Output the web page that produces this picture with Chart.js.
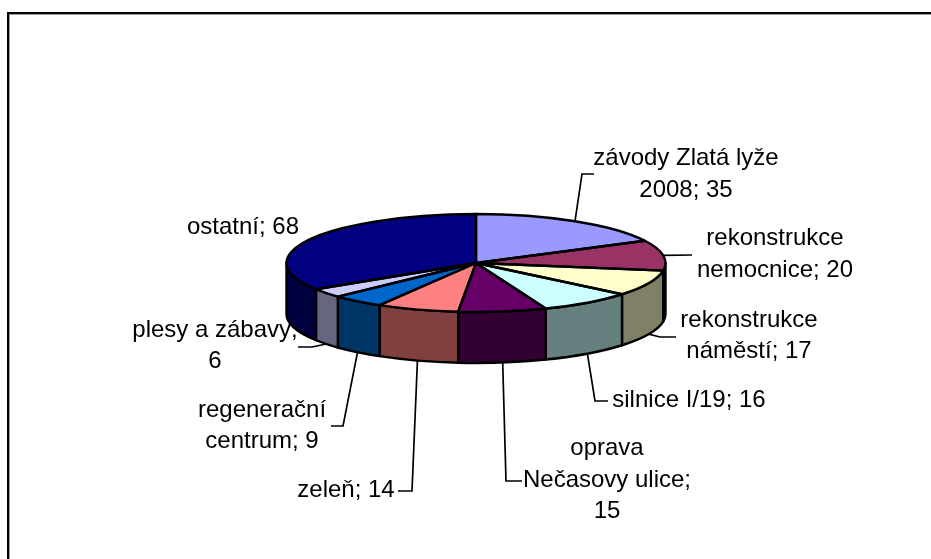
<!DOCTYPE html>
<html>
<head>
<meta charset="utf-8">
<style>
html,body{margin:0;padding:0;background:#fff;overflow:hidden}
canvas{display:block}
</style>
<script src="https://cdn.jsdelivr.net/npm/chart.js@4/dist/chart.umd.min.js"></script>
</head>
<body>
<canvas id="c" width="931" height="559"></canvas>
<script>
const categories = ["závody Zlatá lyže 2008","rekonstrukce nemocnice","rekonstrukce náměstí","silnice I/19","oprava Nečasovy ulice","zeleň","regenerační centrum","plesy a zábavy","ostatní"];
const values = [35,20,17,16,15,14,9,6,68];
const topColors = ["#9999FF","#993366","#FFFFCC","#CCFFFF","#660066","#FF8080","#0066CC","#CCCCFF","#000080"];
const wallColors = ["#4D4D80","#4D1A33","#808066","#668080","#330033","#804040","#003366","#666680","#000040"];
const labelLines = [["závody Zlatá lyže","2008; 35"],["rekonstrukce","nemocnice; 20"],["rekonstrukce","náměstí; 17"],["silnice I/19; 16"],["oprava","Nečasovy ulice;","15"],["zeleň; 14"],["regenerační","centrum; 9"],["plesy a zábavy;","6"],["ostatní; 68"]];
const labelCenterX = [686,775,749,689,607,346,262,215,243];
const labelBaseY = [[165,197],[245,277],[327,358],[407],[455,487,518],[497],[417,448],[337,368],[234]];
const leaderBends = [[[582,174],[594,174]],[[692,255]],[[660,337],[676,337]],[[595,401],[608,401]],[[506,481],[522,481]],[[412,491],[398,491]],[[343,426],[331,426]],[[312,347],[298,347]],[]];

const SQUASH = 49/189.5, DEPTH = 51;
const pie3d = {
  id:'pie3d',
  beforeDraw(chart){
    const c = chart.ctx;
    c.save();
    c.fillStyle='#fff'; c.fillRect(0,0,chart.width,chart.height);
    c.fillStyle='#9a9a9a';
    c.fillRect(9,14,chart.width-9,1); c.fillRect(9,14,1,chart.height-14);
    c.fillStyle='#000';
    c.fillRect(7,12,chart.width-7,2); c.fillRect(7,12,2,chart.height-12);
    c.restore();
  },
  beforeDatasetsDraw(chart){
    const c = chart.ctx, arcs = chart.getDatasetMeta(0).data;
    c.save();
    // labels sit beneath the pie
    c.fillStyle='#000'; c.font='24px "Liberation Sans", Arial, sans-serif';
    c.textAlign='center'; c.textBaseline='alphabetic';
    labelLines.forEach((ls,i)=>ls.forEach((t,j)=>c.fillText(t,labelCenterX[i],labelBaseY[i][j])));
    // side wall
    c.lineWidth=2.4; c.strokeStyle='#000'; c.lineJoin='round';
    arcs.forEach((a,i)=>{
      const s=Math.max(a.startAngle,0), e=Math.min(a.endAngle,Math.PI);
      if(e<=s) return;
      const r=a.outerRadius, ry=r*SQUASH;
      c.beginPath();
      c.ellipse(a.x,a.y,r,ry,0,s,e);
      c.ellipse(a.x,a.y+DEPTH,r,ry,0,e,s,true);
      c.closePath();
      c.fillStyle=wallColors[i]; c.fill(); c.stroke();
    });
    c.restore();
    // top face: library arcs, squashed to an ellipse
    const a0=arcs[0];
    c.save();
    c.translate(0,a0.y); c.scale(1,SQUASH); c.translate(0,-a0.y);
  },
  afterDatasetsDraw(chart){
    const c = chart.ctx, arcs = chart.getDatasetMeta(0).data;
    c.restore();
    c.save();
    c.lineWidth=2.4; c.strokeStyle='#000'; c.lineJoin='round';
    arcs.forEach(a=>{
      c.beginPath();
      c.moveTo(a.x,a.y);
      c.ellipse(a.x,a.y,a.outerRadius,a.outerRadius*SQUASH,0,a.startAngle,a.endAngle);
      c.closePath(); c.stroke();
    });
    // leader lines from each slice's rim midpoint
    c.lineWidth=1.7; c.lineJoin='miter';
    arcs.forEach((a,i)=>{
      if(!leaderBends[i].length) return;
      const m=(a.startAngle+a.endAngle)/2, r=a.outerRadius;
      const dy=Math.sin(m)*r*SQUASH;
      c.beginPath();
      c.moveTo(a.x+Math.cos(m)*r, a.y+dy+(dy>10?DEPTH:0));
      leaderBends[i].forEach(p=>c.lineTo(p[0],p[1]));
      c.stroke();
    });
    c.restore();
  }
};
new Chart(document.getElementById('c'),{
  type:'pie',
  data:{labels:categories,datasets:[{data:values,backgroundColor:topColors,borderWidth:0,hoverOffset:0,clip:false}]},
  options:{
    responsive:false,animation:false,radius:189.5,
    layout:{padding:{left:21,bottom:33}},
    events:[],
    plugins:{legend:{display:false},tooltip:{enabled:false},title:{display:false}}
  },
  plugins:[pie3d]
});
</script>
</body>
</html>
